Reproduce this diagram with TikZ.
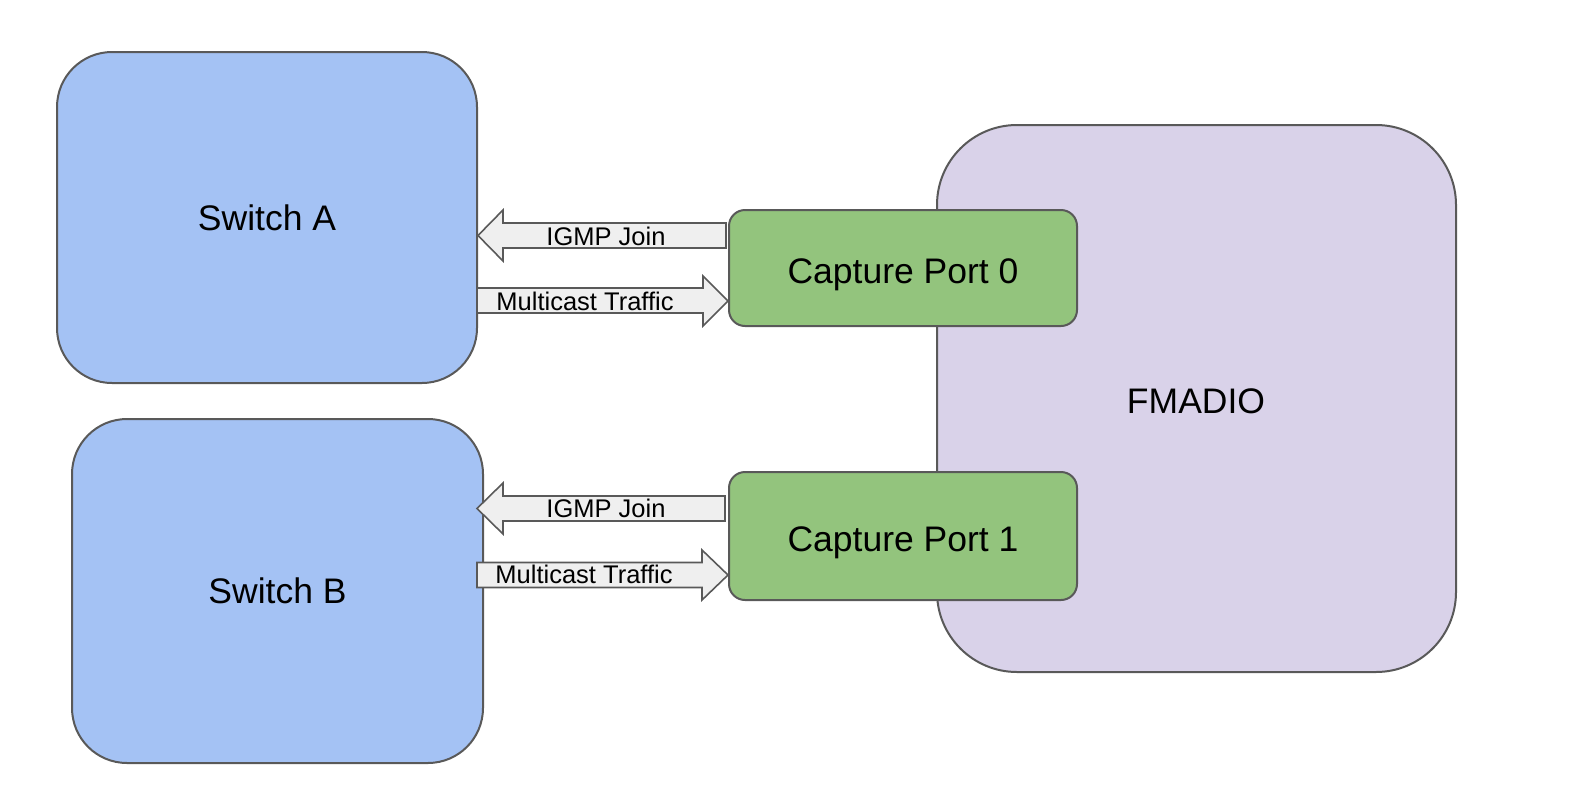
\documentclass[tikz,border=0pt]{standalone}
\usepackage{fontspec}
\setmainfont{Liberation Sans}
\definecolor{swblue}{HTML}{A4C2F4}
\definecolor{fmpurple}{HTML}{D9D2E9}
\definecolor{portgreen}{HTML}{93C47D}
\definecolor{arrowfill}{HTML}{EFEFEF}
\definecolor{edgegray}{HTML}{595959}
\begin{document}
\begin{tikzpicture}[x=1pt,y=-1pt,
  box/.style={draw=edgegray, line width=2pt, inner sep=0pt, font=\fontsize{35.5}{42}\selectfont},
  portbox/.style={box, fill=portgreen, rounded corners=16pt, minimum width=348pt, text height=30pt, text depth=0pt},
  blockarrow/.style={draw=edgegray, fill=arrowfill, line width=1.6pt, line join=miter},
  arrowtext/.style={inner sep=0pt, font=\fontsize{25.5}{30}\selectfont}]
\useasboundingbox (0,0) rectangle (1579,809);
% switches
\node[box, fill=swblue, rounded corners=55pt, minimum width=420pt, minimum height=331pt] (swA) at (267,217.5) {Switch A};
\node[box, fill=swblue, rounded corners=55pt, minimum width=411pt, minimum height=344pt] (swB) at (277.5,591) {Switch B};
% FMADIO
\node[box, fill=fmpurple, rounded corners=80pt, minimum width=519pt, minimum height=547pt] (fm) at (1196.5,398.5) {};
\node[inner sep=0pt, font=\fontsize{35.5}{42}\selectfont] (fmlabel) at (1196,401) {FMADIO};
% ports
\node[portbox, minimum height=116pt] (p0) at (903,268) {Capture Port 0};
\node[portbox, minimum height=128pt] (p1) at (903,536) {Capture Port 1};
% block arrows, upper pair
\draw[blockarrow] (726,223) -- (503,223) -- (503,210) -- (478,235.5) -- (503,261) -- (503,248) -- (726,248) -- cycle;
\node[arrowtext] (igmpA) at (606,236.5) {IGMP Join};
\draw[blockarrow] (477,288) -- (703,288) -- (703,276) -- (728,301) -- (703,326) -- (703,313) -- (477,313) -- cycle;
\node[arrowtext] (mcA) at (585,301.5) {Multicast Traffic};
% block arrows, lower pair
\draw[blockarrow] (725,496) -- (503,496) -- (503,483) -- (477,508.5) -- (503,534) -- (503,521) -- (725,521) -- cycle;
\node[arrowtext] (igmpB) at (606,508.5) {IGMP Join};
\draw[blockarrow] (477,562.5) -- (702,562.5) -- (702,550) -- (728,575) -- (702,600) -- (702,587.5) -- (477,587.5) -- cycle;
\node[arrowtext] (mcB) at (584,574.5) {Multicast Traffic};
\end{tikzpicture}
\end{document}
